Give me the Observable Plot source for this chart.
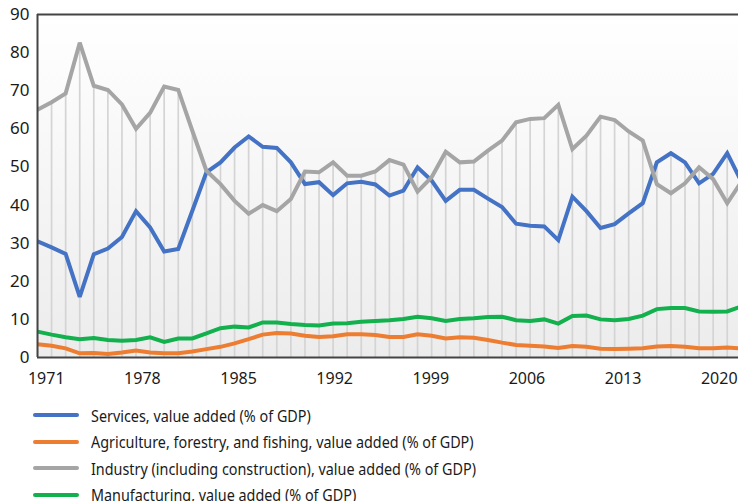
<!DOCTYPE html>
<html>
<head>
<meta charset="utf-8">
<script src="https://cdn.jsdelivr.net/npm/d3@7"></script>
<script src="https://cdn.jsdelivr.net/npm/@observablehq/plot@0.6"></script>
<style>
  html, body { margin: 0; padding: 0; background: #fff; overflow: hidden; }
  #chart svg { display: block; }
  #chart svg text { fill: #1a1a1a; }
  #legend { margin-top: 7px; font-family: "Noto Sans", sans-serif; font-size: 17px; color: #1a1a1a; }
  .item { display: flex; align-items: center; height: 26.5px; white-space: nowrap; }
  .sw { flex: none; width: 46px; height: 4px; border-radius: 2px; margin-left: 33px; margin-right: 12px; }
  .lbl { display: inline-block; transform: scaleX(0.845); transform-origin: 0 50%; }
</style>
</head>
<body>
<div id="chart"></div>
<div id="legend"></div>
<script>
const years = d3.range(1971, 2022);
const seriesNames = [
  "Services, value added (% of GDP)",
  "Agriculture, forestry, and fishing, value added (% of GDP)",
  "Industry (including construction), value added (% of GDP)",
  "Manufacturing, value added (% of GDP)"
];
const seriesColors = ["#4472c4", "#ed7d31", "#a5a5a5", "#13b04e"];
const services = [30.5,28.9,27.2,15.9,27.1,28.6,31.6,38.4,34.1,27.8,28.5,38.5,48.6,51.2,55.1,58.0,55.3,55.0,51.2,45.5,46.0,42.6,45.7,46.1,45.4,42.5,43.8,49.9,46.4,41.1,44.0,44.0,41.7,39.5,35.1,34.6,34.4,30.8,42.2,38.4,34.0,35.0,37.8,40.5,51.2,53.6,51.2,45.7,48.2,53.6,46.2];
const agriculture = [3.5,3.1,2.4,1.1,1.2,0.9,1.3,1.8,1.3,1.1,1.1,1.6,2.2,2.8,3.7,4.8,6.0,6.4,6.3,5.7,5.4,5.6,6.1,6.1,5.9,5.4,5.4,6.1,5.7,5.0,5.3,5.2,4.6,3.9,3.3,3.1,2.9,2.5,3.0,2.8,2.3,2.2,2.3,2.4,2.9,3.0,2.8,2.4,2.4,2.6,2.4];
const industry = [65.0,67.0,69.3,82.6,71.3,70.2,66.4,60.0,64.2,71.1,70.2,59.5,49.0,45.5,41.1,37.7,40.0,38.4,41.6,48.8,48.6,51.2,47.7,47.7,48.8,51.8,50.6,43.5,47.3,54.0,51.2,51.4,54.3,56.9,61.7,62.6,62.8,66.3,54.7,58.2,63.2,62.3,59.3,56.9,45.5,43.1,45.7,49.9,46.8,40.5,46.1];
const manufacturing = [6.8,6.0,5.3,4.8,5.1,4.6,4.4,4.6,5.3,4.1,5.0,5.0,6.3,7.7,8.1,7.9,9.2,9.2,8.8,8.5,8.4,8.9,9.0,9.4,9.6,9.8,10.1,10.7,10.3,9.6,10.1,10.3,10.6,10.7,9.8,9.6,10.0,8.9,10.9,11.0,10.0,9.8,10.1,11.0,12.7,13.0,13.0,12.1,12.0,12.1,13.4];
const xTicks = [1971, 1978, 1985, 1992, 1999, 2006, 2013, 2020];
const yTicks = [0, 10, 20, 30, 40, 50, 60, 70, 80, 90];

const seriesValues = [services, agriculture, industry, manufacturing];
const rows = [];
seriesValues.forEach((vals, i) => vals.forEach((v, j) => rows.push({year: years[j], value: v, series: seriesNames[i]})));
const maxes = years.map((y, j) => ({year: y, top: d3.max(seriesValues, s => s[j])}));

// category-style label slots: labels sit on an evenly spread band slightly narrower than the data span
const labelSlot = d => 1971.62 + (d - 1971) * 0.9758;

const W = 738, H = 395;
const plot = Plot.plot({
  width: W,
  height: H,
  marginLeft: 37,
  marginRight: 0,
  marginTop: 14,
  marginBottom: 38,
  style: {fontFamily: "'Noto Sans', sans-serif", fontSize: "16px", background: "transparent", overflow: "hidden"},
  x: {domain: [1971, 1971 + (W - 37.3) / 14.07], axis: null},
  y: {domain: [0, 90], ticks: yTicks, tickSize: 0, tickPadding: 8, label: null},
  color: {domain: seriesNames, range: seriesColors},
  marks: [
    Plot.frame({fill: "url(#bgGrad)", stroke: "none"}),
    Plot.ruleX(maxes, {x: "year", y1: 0, y2: "top", stroke: "#d4d4d4", strokeWidth: 1.7, clip: true}),
    Plot.line(rows, {x: "year", y: "value", z: "series", stroke: "series", strokeWidth: 4, strokeLinejoin: "miter", strokeMiterlimit: 3, clip: true}),
    Plot.ruleY([90], {stroke: "#444", strokeWidth: 2}),
    Plot.ruleY([0], {stroke: "#444", strokeWidth: 2}),
    Plot.ruleX([1971], {stroke: "#444", strokeWidth: 2}),
    Plot.text(xTicks, {x: labelSlot, y: 0, text: d => String(d), dy: 21, lineAnchor: "middle", fontSize: 16, fill: "#1a1a1a"})
  ]
});
const svgSel = d3.select(plot);
const grad = svgSel.insert("defs", ":first-child").append("linearGradient")
  .attr("id", "bgGrad").attr("x1", 0).attr("y1", 0).attr("x2", 0).attr("y2", 1);
grad.append("stop").attr("offset", "0%").attr("stop-color", "#ffffff");
grad.append("stop").attr("offset", "100%").attr("stop-color", "#ececec");
svgSel.selectAll('g[aria-label^="y-axis"] text').style("font-size", "17px");
document.getElementById("chart").appendChild(plot);

const legend = d3.select("#legend");
seriesNames.forEach((name, i) => {
  const item = legend.append("div").attr("class", "item");
  item.append("div").attr("class", "sw").style("background", seriesColors[i]);
  item.append("span").attr("class", "lbl").text(name);
});
</script>
</body>
</html>
